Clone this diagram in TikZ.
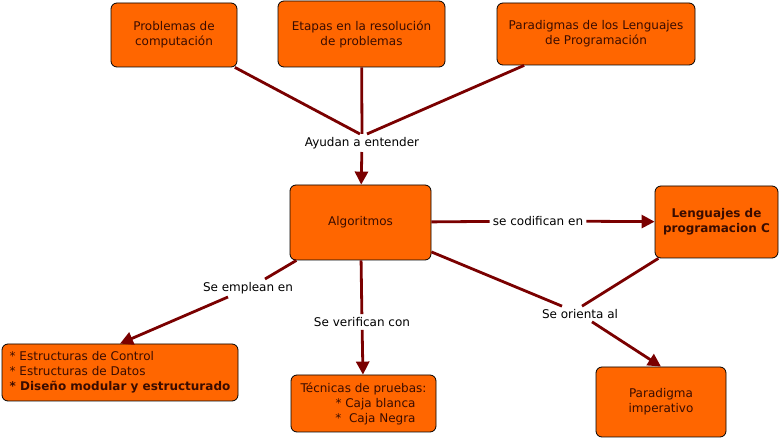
\documentclass[tikz,border=0pt]{standalone}
\usepackage{fontspec}
\setmainfont{DejaVu Sans}
\usetikzlibrary{arrows.meta}
\definecolor{boxfill}{HTML}{FF6600}
\definecolor{linkred}{HTML}{7A0000}
\definecolor{boxtext}{HTML}{3A0C00}
\tikzset{
  concept/.style={rectangle, rounded corners=6pt, draw=black, line width=0.8pt, fill=boxfill, align=center, text=boxtext, font=\fontsize{12}{15}\selectfont, inner sep=3pt},
  linklabel/.style={font=\fontsize{12}{14}\selectfont, text=black, inner sep=3pt},
  link/.style={draw=linkred, line width=2.8pt},
  linkarrow/.style={link, -{Triangle[length=13pt,width=13pt]}}
}
\begin{document}
\begin{tikzpicture}[x=1pt,y=1pt]
\useasboundingbox (0,0) rectangle (780,439);

% concepts
\node[concept, minimum width=126pt, minimum height=64pt] (prob) at (174,404) {Problemas de\\computación};
\node[concept, minimum width=167pt, minimum height=66pt] (etapas) at (361.5,405) {Etapas en la resolución\\de problemas};
\node[concept, minimum width=198pt, minimum height=62pt] (parad) at (596,405) {Paradigmas de los Lenguajes\\de Programación};
\node[concept, minimum width=141pt, minimum height=75pt] (algo) at (360.5,216.5) {Algoritmos};
\node[concept, minimum width=123pt, minimum height=72pt, font=\bfseries\fontsize{12}{15}\selectfont] (leng) at (716.5,217) {Lenguajes de\\programacion C};
\node[concept, minimum width=236pt, minimum height=57pt, align=left] (estr) at (120,66.5) {* Estructuras de Control\\* Estructuras de Datos\\\textbf{* Diseño modular y estructurado}};
\node[concept, minimum width=145pt, minimum height=57pt] (tecn) at (363.5,35.5) {Técnicas de pruebas:\\\hspace*{24pt}* Caja blanca\\\hspace*{24pt}*\ \ Caja Negra};
\node[concept, minimum width=130pt, minimum height=70pt] (imper) at (661,37) {Paradigma\\imperativo};

% linking phrases
\node[linklabel] (ayudan) at (362,296) {Ayudan a entender};
\node[linklabel] (codif) at (538,218) {se codifican en};
\node[linklabel] (emplean) at (248,151) {Se emplean en};
\node[linklabel] (verif) at (362,117) {Se verifican con};
\node[linklabel] (orienta) at (580,125) {Se orienta al};

% connections
\draw[link] (prob) -- ([xshift=-2pt]ayudan.north);
\draw[link] (etapas) -- (ayudan.north);
\draw[link] (parad) -- ([xshift=5pt]ayudan.north);
\draw[linkarrow] (ayudan) -- (algo);
\draw[link] (algo) -- (codif);
\draw[linkarrow] (codif) -- (leng);
\draw[link] (algo) -- ([xshift=17pt]emplean.north);
\draw[linkarrow] ([xshift=-20pt]emplean.south) -- (estr.north);
\draw[link] (algo) -- (verif);
\draw[linkarrow] (verif) -- (tecn);
\draw[link] (algo) -- ([xshift=-18pt]orienta.north);
\draw[link] (leng) -- ([xshift=2pt]orienta.north);
\draw[linkarrow] ([xshift=12pt]orienta.south) -- (imper.north);

\end{tikzpicture}
\end{document}
